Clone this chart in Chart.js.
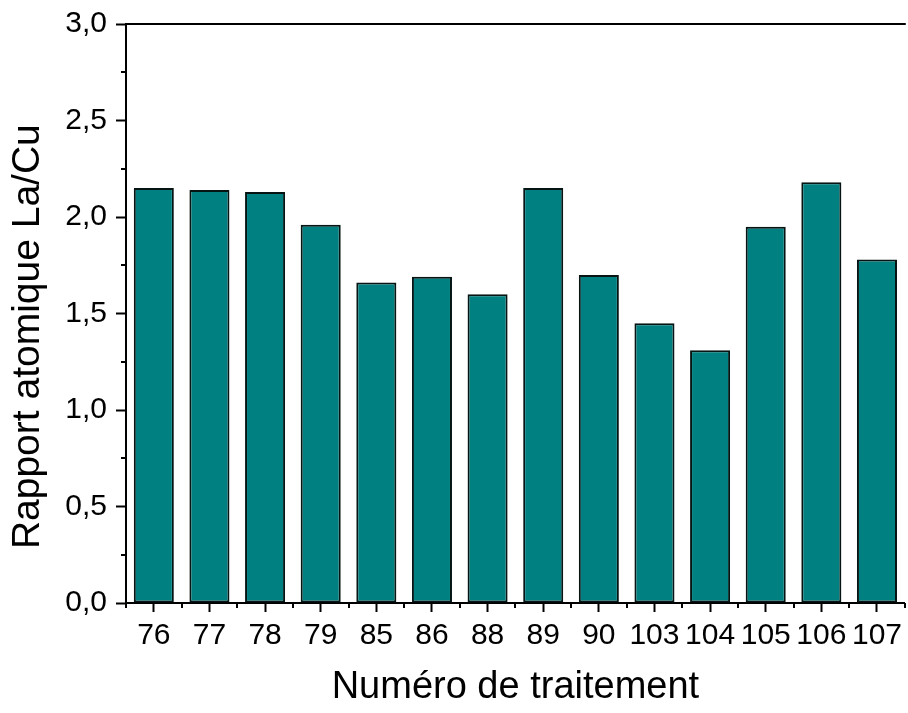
<!DOCTYPE html>
<html>
<head>
<meta charset="utf-8">
<script src="https://cdn.jsdelivr.net/npm/chart.js@4/dist/chart.umd.min.js"></script>
<style>
  html, body { margin: 0; padding: 0; background: #fff; }
  #wrap { width: 908px; height: 713px; }
</style>
</head>
<body>
<div id="wrap"><canvas id="chart"></canvas></div>
<script>
// Treatment numbers on the x axis
const treatments = ['76', '77', '78', '79', '85', '86', '88', '89', '90', '103', '104', '105', '106', '107'];

// La/Cu atomic ratio per treatment
const ratios = [2.15, 2.14, 2.13, 1.96, 1.66, 1.69, 1.60, 2.15, 1.70, 1.45, 1.31, 1.95, 2.18, 1.78];

// Y axis range
const yMin = 0;
const yMax = 3.0;
const yStep = 0.5;

const FONT = 'Liberation Sans, Arial, sans-serif';
const Y_TITLE = 'Rapport atomique La/Cu';

// Minor ticks, top border line and the y title (sits a bit below the axis centre)
const axisExtras = {
    id: 'axisExtras',
    afterDraw(chart) {
        const ctx = chart.ctx;
        const area = chart.chartArea;
        const x = chart.scales.x;
        const y = chart.scales.y;
        ctx.save();
        ctx.strokeStyle = '#000';
        ctx.lineWidth = 2;

        // top border
        ctx.beginPath();
        ctx.moveTo(area.left - 1, area.top);
        ctx.lineTo(area.right + 1, area.top);
        ctx.stroke();

        // y minor ticks halfway between the labelled ones
        for (let v = yMin + yStep / 2; v < yMax; v += yStep) {
            const py = Math.round(y.getPixelForValue(v));
            ctx.beginPath();
            ctx.moveTo(area.left, py);
            ctx.lineTo(area.left - 5, py);
            ctx.stroke();
        }

        // x minor ticks on the category boundaries
        for (let i = 0; i <= treatments.length; i++) {
            const px = Math.round(x.getPixelForValue(i - 0.5));
            ctx.beginPath();
            ctx.moveTo(px, area.bottom);
            ctx.lineTo(px, area.bottom + 5);
            ctx.stroke();
        }

        // y title
        ctx.translate(28, y.getPixelForValue(1.38));
        ctx.rotate(-Math.PI / 2);
        ctx.fillStyle = '#000';
        ctx.font = '39px ' + FONT;
        ctx.textAlign = 'center';
        ctx.textBaseline = 'middle';
        ctx.fillText(Y_TITLE, 0, 0);
        ctx.restore();
    }
};

const ctx = document.getElementById('chart').getContext('2d');
new Chart(ctx, {
    type: 'bar',
    data: {
        labels: treatments,
        datasets: [{
            data: ratios,
            backgroundColor: '#008080',
            borderColor: '#061414',
            borderWidth: 2,
            borderSkipped: false,
            barPercentage: 0.72,
            categoryPercentage: 1.0
        }]
    },
    options: {
        responsive: true,
        maintainAspectRatio: false,
        animation: false,
        layout: { padding: { top: 23, right: 0, left: 0, bottom: 0 } },
        plugins: {
            legend: { display: false },
            tooltip: { enabled: false }
        },
        scales: {
            x: {
                offset: true,
                grid: {
                    offset: false,
                    drawOnChartArea: false,
                    drawTicks: true,
                    tickLength: 9,
                    tickWidth: 2,
                    tickColor: '#000'
                },
                border: { display: true, color: '#000', width: 2 },
                ticks: {
                    color: '#000',
                    font: { family: FONT, size: 30 },
                    padding: 6,
                    maxRotation: 0,
                    autoSkip: false
                },
                title: {
                    display: true,
                    text: 'Numéro de traitement',
                    color: '#000',
                    font: { family: FONT, size: 38 },
                    padding: { top: 0, bottom: 3 }
                },
                afterFit(scale) { scale.height = 110; }
            },
            y: {
                min: yMin,
                max: yMax,
                grid: {
                    drawOnChartArea: false,
                    drawTicks: true,
                    tickLength: 10,
                    tickWidth: 2,
                    tickColor: '#000'
                },
                border: { display: true, color: '#000', width: 2 },
                ticks: {
                    stepSize: yStep,
                    color: '#000',
                    font: { family: FONT, size: 30, lineHeight: 1 },
                    padding: 9,
                    callback: v => v.toFixed(1).replace('.', ',')
                },
                afterFit(scale) { scale.width = 126; }
            }
        }
    },
    plugins: [axisExtras]
});
</script>
</body>
</html>
